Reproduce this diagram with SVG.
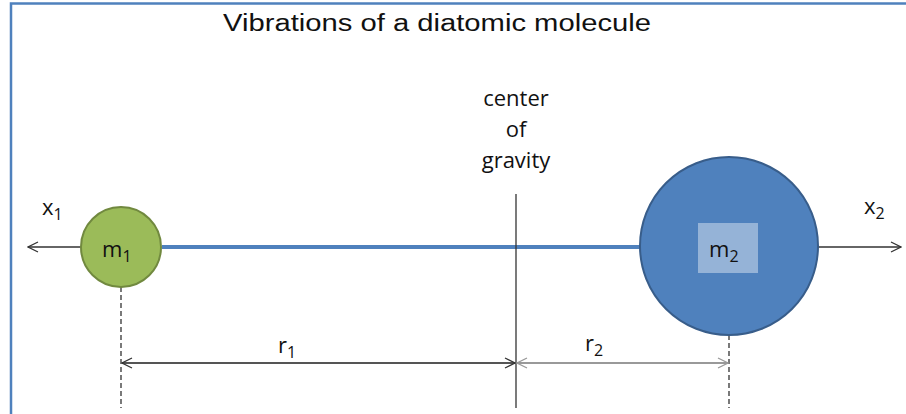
<svg xmlns="http://www.w3.org/2000/svg" width="906" height="414" viewBox="0 0 906 414">
<style>
text{font-family:"Open Sans","Liberation Sans",sans-serif;fill:#111}
.lbl{font-size:22px}
.sub{font-size:16px}
.thin{stroke:#333;stroke-width:1.3;fill:none}
.dash{stroke:#222;stroke-width:1.2;stroke-dasharray:5,3;fill:none}
</style>
<defs>
<marker id="open" viewBox="0 0 12 12" refX="11" refY="6" markerWidth="12" markerHeight="12" markerUnits="userSpaceOnUse" orient="auto-start-reverse">
<path d="M1,1 L11,6 L1,11" fill="none" stroke="#333" stroke-width="1.3"/>
</marker>
<marker id="openG" viewBox="0 0 12 12" refX="11" refY="6" markerWidth="12" markerHeight="12" markerUnits="userSpaceOnUse" orient="auto-start-reverse">
<path d="M1,1 L11,6 L1,11" fill="none" stroke="#999" stroke-width="1.3"/>
</marker>
</defs>
<rect width="906" height="414" fill="#ffffff"/>
<path d="M11,414 V3.5 H906" fill="none" stroke="#4f81bd" stroke-width="2.5"/>
<text x="437" y="31" text-anchor="middle" style="font-family:'Liberation Sans',sans-serif;font-size:23px" textLength="428" lengthAdjust="spacingAndGlyphs">Vibrations of a diatomic molecule</text>
<g id="cog-label">
<text class="lbl" x="516" y="106" text-anchor="middle">center</text>
<text class="lbl" x="516" y="137" text-anchor="middle">of</text>
<text class="lbl" x="516" y="168" text-anchor="middle">gravity</text>
</g>
<g id="connectors">
<line x1="162" y1="247" x2="641" y2="247" stroke="#4f81bd" stroke-width="4"/>
<line x1="516" y1="194" x2="516" y2="408" stroke="#333" stroke-width="1.3"/>
<line class="thin" x1="81" y1="247" x2="28" y2="247" marker-end="url(#open)"/>
<line class="thin" x1="818" y1="247" x2="901" y2="247" marker-end="url(#open)"/>
<line class="dash" x1="121" y1="287" x2="121" y2="408"/>
<line class="dash" x1="729" y1="335" x2="729" y2="408"/>
<line x1="122" y1="363" x2="515" y2="363" stroke="#555" stroke-width="1.8" marker-start="url(#open)" marker-end="url(#open)"/>
<line x1="517" y1="363" x2="728" y2="363" stroke="#999" stroke-width="1.8" marker-start="url(#openG)" marker-end="url(#openG)"/>
</g>
<g id="m1">
<circle cx="121" cy="247" r="40" fill="#9bbb59" stroke="#71893f" stroke-width="2"/>
<text class="lbl" x="102" y="257">m<tspan class="sub" dy="5">1</tspan></text>
</g>
<g id="m2">
<circle cx="729" cy="246" r="89" fill="#4f81bd" stroke="#385d8a" stroke-width="2"/>
<rect x="698" y="223" width="60" height="50" fill="#95b3d7"/>
<text class="lbl" x="709" y="257">m<tspan class="sub" dy="5">2</tspan></text>
</g>
<g id="labels">
<text class="lbl" x="42" y="215">x<tspan class="sub" dy="5">1</tspan></text>
<text class="lbl" x="864" y="214">x<tspan class="sub" dy="5">2</tspan></text>
<text class="lbl" x="278" y="353">r<tspan class="sub" dy="5">1</tspan></text>
<text class="lbl" x="585" y="351">r<tspan class="sub" dy="5">2</tspan></text>
</g>
</svg>
